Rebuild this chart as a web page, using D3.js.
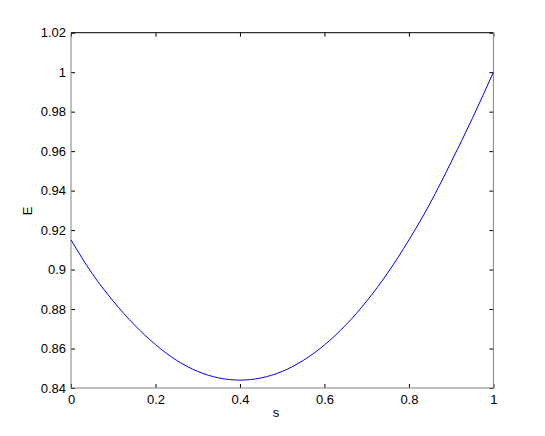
<!DOCTYPE html>
<html>
  <head>
    <meta charset="utf-8">
    <script src="https://d3js.org/d3.v7.min.js"></script>
    <style>
      body { margin: 0; background: #fff; }
      svg { display: block; font-family: 'Liberation Sans', Arial, sans-serif; }
      .tick text { font-size: 13px; fill: #000; }
      .tick line { stroke: #000; }
      .label { font-size: 13px; fill: #000; }
    </style>
  </head>
  <body>
    <svg></svg>
    <script>
      // values
      const sValues = [0, 0.05, 0.1, 0.15, 0.2, 0.25, 0.3, 0.35, 0.4, 0.45, 0.5,
                       0.55, 0.6, 0.65, 0.7, 0.75, 0.8, 0.85, 0.9, 0.95, 1]
      const eValues = [0.915, 0.898, 0.884, 0.872, 0.862, 0.854, 0.8484, 0.8451, 0.844, 0.8451, 0.8484,
                       0.854, 0.8618, 0.8718, 0.884, 0.8984, 0.915, 0.9335, 0.9545, 0.9765, 1.0]
      const xTicks = [0, 0.2, 0.4, 0.6, 0.8, 1]
      const yTicks = [0.84, 0.86, 0.88, 0.9, 0.92, 0.94, 0.96, 0.98, 1, 1.02]

      const width = 545
      const height = 436
      const margin = {left: 71, right: 51.6, top: 32.7, bottom: 48}

      const svg = d3.select('svg')
        .attr('width', width)
        .attr('height', height)

      const x = d3.scaleLinear()
        .domain([0, 1])
        .range([margin.left, width - margin.right])

      const y = d3.scaleLinear()
        .domain([0.84, 1.02])
        .range([height - margin.bottom, margin.top])

      const fmt = d3.format('~g')

      // ticks on all four sides, pointing inward
      svg.append('g')
        .attr('transform', `translate(0,${y.range()[0]})`)
        .call(d3.axisBottom(x).tickValues(xTicks).tickFormat(fmt).tickSizeInner(-4).tickSizeOuter(0).tickPadding(7))
        .call(g => g.select('.domain').remove())

      svg.append('g')
        .attr('transform', `translate(0,${y.range()[1]})`)
        .call(d3.axisTop(x).tickValues(xTicks).tickFormat('').tickSizeInner(-4).tickSizeOuter(0))
        .call(g => g.select('.domain').remove())

      svg.append('g')
        .attr('transform', `translate(${x.range()[0]},0)`)
        .call(d3.axisLeft(y).tickValues(yTicks).tickFormat(fmt).tickSizeInner(-4).tickSizeOuter(0).tickPadding(5))
        .call(g => g.select('.domain').remove())

      svg.append('g')
        .attr('transform', `translate(${x.range()[1]},0)`)
        .call(d3.axisRight(y).tickValues(yTicks).tickFormat('').tickSizeInner(-4).tickSizeOuter(0))
        .call(g => g.select('.domain').remove())

      svg.selectAll('.tick text').attr('font-family', null).attr('font-size', null)

      // axes box
      const [x0, x1] = x.range()
      const [y0, y1] = y.range()
      svg.append('line').attr('x1', x0).attr('x2', x1).attr('y1', y1).attr('y2', y1).attr('stroke', '#000')
      svg.append('line').attr('x1', x0).attr('x2', x1).attr('y1', y0).attr('y2', y0).attr('stroke', '#808080')
      svg.append('line').attr('x1', x0).attr('x2', x0).attr('y1', y0).attr('y2', y1).attr('stroke', '#808080')
      svg.append('line').attr('x1', x1).attr('x2', x1).attr('y1', y0).attr('y2', y1).attr('stroke', '#808080')

      const line = d3.line()
        .x(d => x(d[0]))
        .y(d => y(d[1]))
        .curve(d3.curveMonotoneX)

      svg.append('path')
        .datum(sValues.map((s, i) => [s, eValues[i]]))
        .attr('fill', 'none')
        .attr('stroke', '#0000ff')
        .attr('stroke-width', 1)
        .attr('d', line)

      svg.append('text')
        .attr('class', 'label')
        .attr('x', 276)
        .attr('y', 417)
        .attr('text-anchor', 'middle')
        .text('s')

      svg.append('text')
        .attr('class', 'label')
        .attr('transform', 'translate(32,211) rotate(-90)')
        .attr('text-anchor', 'middle')
        .text('E')
    </script>
  </body>
</html>
